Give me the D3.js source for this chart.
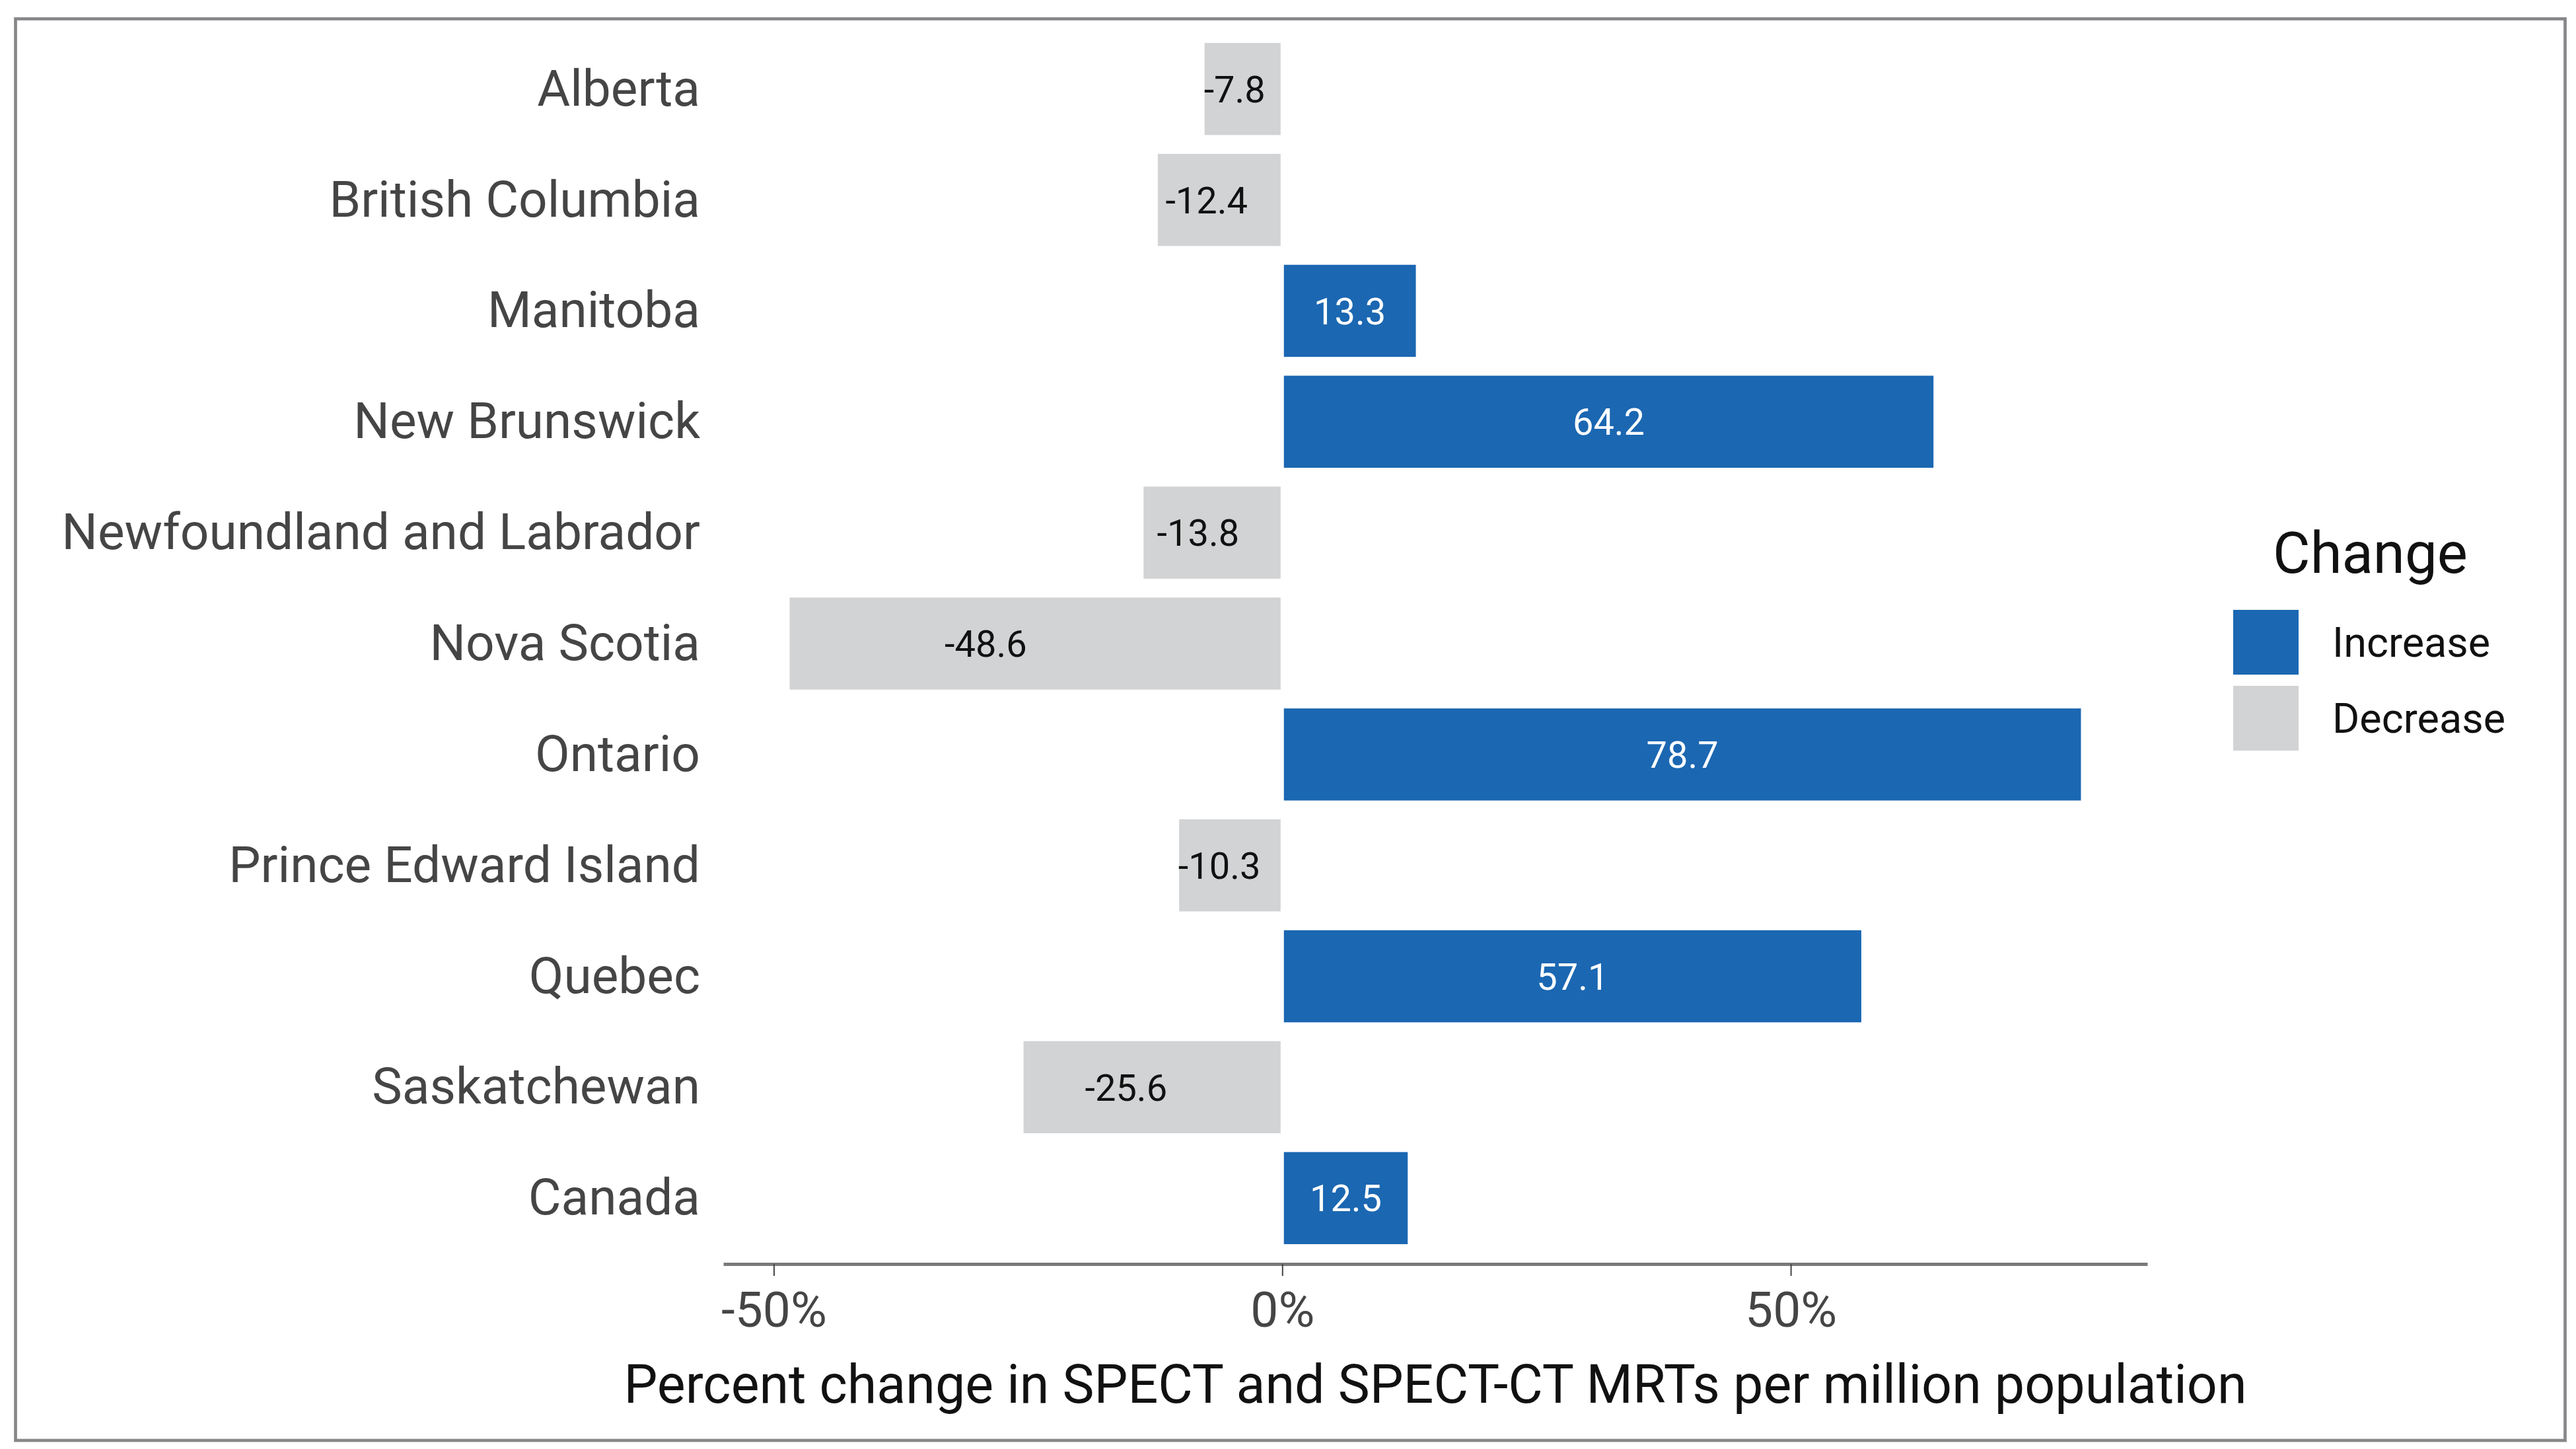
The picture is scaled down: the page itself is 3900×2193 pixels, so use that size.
<!DOCTYPE html>
<html>
<head>
<meta charset="utf-8">
<script src="https://cdn.jsdelivr.net/npm/d3@7"></script>
<style>
  body { margin: 0; background: #fff; }
  text { font-family: Roboto, "Noto Sans", sans-serif; }
</style>
</head>
<body>
<div id="div_chart"></div>
<script>
// data
var provinces = ["Alberta", "British Columbia", "Manitoba", "New Brunswick",
  "Newfoundland and Labrador", "Nova Scotia", "Ontario", "Prince Edward Island",
  "Quebec", "Saskatchewan", "Canada"];
var changes = [-7.8, -12.4, 13.3, 64.2, -13.8, -48.6, 78.7, -10.3, 57.1, -25.6, 12.5];
var xTicks = [-50, 0, 50];
var legendLabels = ["Increase", "Decrease"];
var legendTitle = "Change";
var xTitle = "Percent change in SPECT and SPECT-CT MRTs per million population";

var dataset = provinces.map(function(p, i) {
  return { group: p, value: changes[i], kind: changes[i] >= 0 ? "Increase" : "Decrease" };
});

//Width and height
var w = 3900;
var h = 2193;
var panel = { left: 1095, right: 3251, top: 34, bottom: 1914 };

var svg = d3.select("#div_chart")
            .append("svg")
            .attr("width", w)
            .attr("height", h);

svg.append("rect")
   .attr("width", w).attr("height", h)
   .attr("fill", "#fff");

//outer frame
svg.append("rect")
   .attr("x", 23.5).attr("y", 28.5)
   .attr("width", 3860).attr("height", 2151.5)
   .attr("fill", "none")
   .attr("stroke", "#87878a")
   .attr("stroke-width", 4.7);

//scales, with ggplot-like 5% expansion
var lo = d3.min(changes), hi = d3.max(changes);
var pad = (hi - lo) * 0.05;
var x = d3.scaleLinear()
          .domain([lo - pad, hi + pad])
          .range([panel.left, panel.right]);

var y = d3.scalePoint()
          .domain(provinces)
          .range([panel.top, panel.bottom])
          .padding(0.6);

var color = d3.scaleOrdinal()
              .domain(legendLabels)
              .range(["#1b67b2", "#d1d3d4"]);

var barH = y.step() * 0.86;

//bars
var bars = svg.selectAll("g.bar")
              .data(dataset)
              .enter()
              .append("g")
              .attr("class", "bar");

bars.append("rect")
    .attr("x", function(d) { return x(Math.min(0, d.value)); })
    .attr("y", function(d) { return y(d.group) - barH / 2; })
    .attr("width", function(d) { return Math.abs(x(d.value) - x(0)); })
    .attr("height", barH)
    .attr("fill", function(d) { return color(d.kind); })
    .attr("stroke", "#fff")
    .attr("stroke-width", 5);

//labels: middle of blue bars, a bit past the middle on grey ones
bars.append("text")
    .attr("x", function(d) { return x(d.value * (d.value >= 0 ? 0.5 : 0.6)); })
    .attr("y", function(d) { return y(d.group); })
    .attr("dy", "0.36em")
    .attr("text-anchor", "middle")
    .attr("font-size", 56)
    .attr("fill", function(d) { return d.value >= 0 ? "#ffffff" : "#111111"; })
    .text(function(d) { return d.value.toFixed(1); });

//y axis (labels only)
var yAxis = svg.append("g")
               .attr("transform", "translate(" + panel.left + ",0)")
               .call(d3.axisLeft(y).tickSize(0).tickPadding(35));
yAxis.select(".domain").remove();
yAxis.selectAll("text")
     .attr("font-size", 76.6)
     .attr("font-family", "Roboto")
     .attr("fill", "#454545");

//x axis
var xAxis = svg.append("g")
               .attr("transform", "translate(0," + 1913 + ")")
               .call(d3.axisBottom(x)
                 .tickValues(xTicks)
                 .tickFormat(function(d) { return d + "%"; })
                 .tickSize(18)
                 .tickSizeOuter(0)
                 .tickPadding(24));
xAxis.select(".domain")
     .attr("stroke", "#7a7a7a")
     .attr("stroke-width", 5);
xAxis.selectAll(".tick line")
     .attr("stroke", "#444")
     .attr("stroke-width", 2);
xAxis.selectAll("text")
     .attr("font-size", 75)
     .attr("font-family", "Roboto")
     .attr("fill", "#454545");

svg.append("text")
   .attr("x", (panel.left + panel.right) / 2)
   .attr("y", 2123)
   .attr("text-anchor", "middle")
   .attr("font-size", 80.8)
   .attr("fill", "#111")
   .text(xTitle);

//legend
var legend = svg.append("g");
legend.append("text")
      .attr("x", 3441)
      .attr("y", 867)
      .attr("font-size", 87)
      .attr("fill", "#111")
      .text(legendTitle);

var keys = legend.selectAll("g.key")
                 .data(legendLabels)
                 .enter()
                 .append("g")
                 .attr("class", "key")
                 .attr("transform", function(d, i) { return "translate(3381," + (923 + i * 115) + ")"; });

keys.append("rect")
    .attr("width", 99)
    .attr("height", 98)
    .attr("fill", function(d) { return color(d); });

keys.append("text")
    .attr("x", 150)
    .attr("y", 49)
    .attr("dy", "0.35em")
    .attr("font-size", 63)
    .attr("fill", "#111")
    .text(function(d) { return d; });
</script>
</body>
</html>
